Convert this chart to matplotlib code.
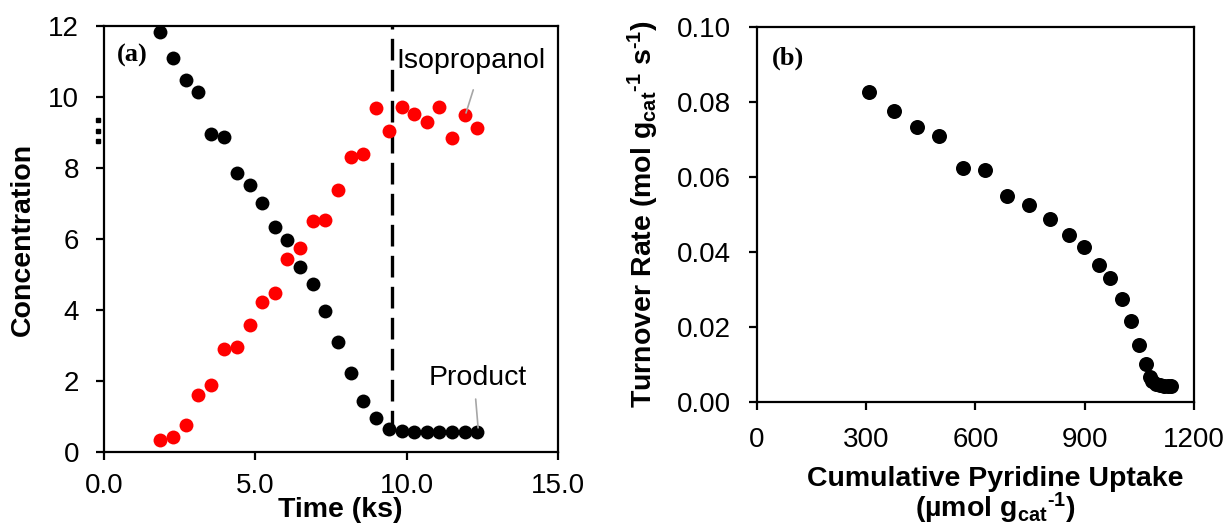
import matplotlib
matplotlib.use('Agg')
import matplotlib.pyplot as plt
import matplotlib.transforms as mtransforms

# panel (a): concentration vs time
time_ks = [1.85, 2.29, 2.70, 3.12, 3.54, 3.96, 4.38, 4.81, 5.22, 5.64, 6.05, 6.47, 6.89,
           7.31, 7.72, 8.15, 8.57, 8.99, 9.41, 9.83, 10.25, 10.66, 11.08, 11.50, 11.92, 12.34]
product_conc = [11.82, 11.11, 10.48, 10.15, 8.95, 8.86, 7.87, 7.53, 7.00, 6.35, 5.97, 5.22, 4.74,
                3.96, 3.11, 2.22, 1.45, 0.97, 0.64, 0.60, 0.57, 0.56, 0.55, 0.55, 0.55, 0.55]
isopropanol_conc = [0.33, 0.42, 0.76, 1.61, 1.89, 2.91, 2.97, 3.58, 4.22, 4.47, 5.43, 5.74, 6.52,
                    6.54, 7.38, 8.32, 8.39, 9.69, 9.04, 9.73, 9.52, 9.29, 9.73, 8.85, 9.49, 9.12]
switch_time = 9.5

# panel (b): turnover rate vs cumulative pyridine uptake
uptake = [307, 376, 439, 501, 565, 627, 687, 748, 805, 856, 898, 939, 970, 1001, 1027,
          1050, 1067, 1079, 1085, 1096, 1107, 1118, 1129, 1137]
turnover = [0.0826, 0.0775, 0.0732, 0.0708, 0.0623, 0.0618, 0.0548, 0.0524, 0.0488, 0.0444,
            0.0414, 0.0364, 0.0330, 0.0275, 0.0216, 0.0153, 0.0100, 0.0067, 0.0056, 0.0048,
            0.0045, 0.0043, 0.0043, 0.0043]

plt.rcParams['font.family'] = ['Liberation Sans', 'DejaVu Sans']
plt.rcParams['mathtext.fontset'] = 'custom'
plt.rcParams['mathtext.rm'] = 'Liberation Sans:bold'
plt.rcParams['mathtext.it'] = 'Liberation Sans:bold'
plt.rcParams['mathtext.bf'] = 'Liberation Sans:bold'

fig = plt.figure(figsize=(12.28, 5.29), dpi=100)
ax1 = fig.add_axes([0.0847, 0.1456, 0.3697, 0.8053])
ax2 = fig.add_axes([0.6164, 0.2401, 0.3559, 0.7089])

for ax in (ax1, ax2):
    for sp in ax.spines.values():
        sp.set_linewidth(1.6)
    ax.tick_params(direction='out', length=6, width=1.6, labelsize=20)

leader = dict(arrowstyle='-', color='#a6a6a6', lw=1.2, shrinkA=0, shrinkB=0)

# --- panel (a)
ax1.plot(time_ks, isopropanol_conc, 'o', color='#ff0000', markersize=10, markeredgewidth=0, zorder=3)
ax1.plot(time_ks, product_conc, 'o', color='black', markersize=10, markeredgewidth=0, zorder=3)
ax1.plot([switch_time, switch_time], [product_conc[-1], 12], color='black', lw=2.4,
         dashes=(6.5, 2.8), zorder=2)
ax1.set_xlim(0, 15)
ax1.set_ylim(0, 12)
ax1.set_xticks([0, 5, 10, 15])
ax1.set_xticklabels(['0.0', '5.0', '10.0', '15.0'])
ax1.set_yticks(range(0, 13, 2))
ax1.tick_params(axis='y', pad=12)
ax1.tick_params(axis='x', pad=9)
ax1.set_xlabel('Time (ks)', fontsize=20.5, fontweight='bold')
ax1.set_ylabel('Concentration', fontsize=20.5, fontweight='bold')
ax1.xaxis.set_label_coords(0.52, -0.105)
ax1.yaxis.set_label_coords(-0.15, 0.5)
ax1.text(0.029, 0.93, '(a)', transform=ax1.transAxes, fontsize=19, fontweight='bold',
         family='Liberation Serif', va='center', ha='left')

ax1.text(9.67, 11.0, 'Isopropanol', fontsize=20.5, va='center', ha='left')
ax1.annotate('', xy=(11.96, 9.55), xytext=(12.2, 10.2), arrowprops=leader)
ax1.text(10.71, 2.07, 'Product', fontsize=20.5, va='center', ha='left')
ax1.annotate('', xy=(12.36, 0.68), xytext=(12.28, 1.49), arrowprops=leader)

# small dotted break marks left of the y axis
brk = mtransforms.blended_transform_factory(ax1.transAxes, ax1.transData)
ax1.plot([-0.013] * 3, [9.35, 9.04, 8.76], 's', color='black', markersize=2.4,
         transform=brk, clip_on=False)

# --- panel (b)
ax2.plot(uptake, turnover, 'o', color='black', markersize=10.8, markeredgewidth=0)
ax2.set_xlim(0, 1200)
ax2.set_ylim(0, 0.10)
ax2.set_xticks([0, 300, 600, 900, 1200])
ax2.set_yticks([0, 0.02, 0.04, 0.06, 0.08, 0.10])
ax2.set_yticklabels(['0.00', '0.02', '0.04', '0.06', '0.08', '0.10'])
ax2.tick_params(axis='y', pad=13)
ax2.tick_params(axis='x', pad=12)
ax2.set_xlabel('Cumulative Pyridine Uptake\n(µmol g$_{cat}$$^{\\text{-}1}$)', fontsize=20.5,
               fontweight='bold', linespacing=0.95)
ax2.set_ylabel('Turnover Rate (mol g$_{cat}$$^{\\text{-}1}$ s$^{\\text{-}1}$)', fontsize=20.5,
               fontweight='bold')
ax2.xaxis.set_label_coords(0.545, -0.17)
ax2.yaxis.set_label_coords(-0.22, 0.5)
ax2.text(0.034, 0.917, '(b)', transform=ax2.transAxes, fontsize=19, fontweight='bold',
         family='Liberation Serif', va='center', ha='left')

fig.savefig('out.png', dpi=100)
